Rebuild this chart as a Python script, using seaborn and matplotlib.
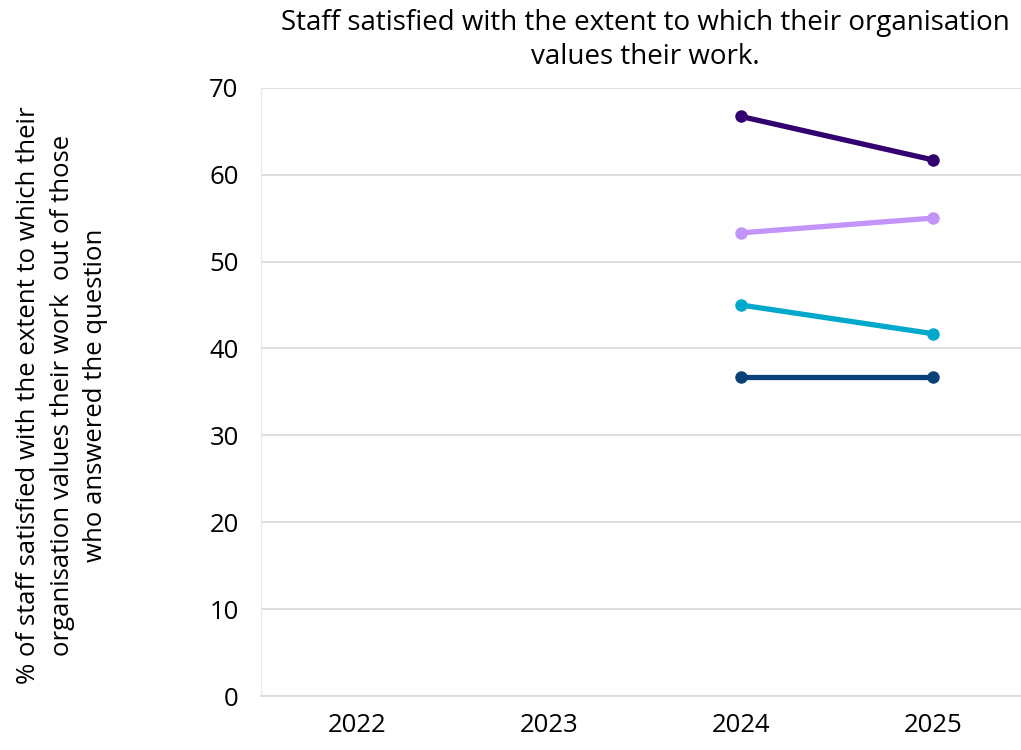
import numpy as np
import pandas as pd
import matplotlib
matplotlib.use("Agg")
import matplotlib.pyplot as plt
import seaborn as sns

years = ["2022", "2023", "2024", "2025"]
series_names = ["Series A", "Series B", "Series C", "Series D"]
series_a = [np.nan, np.nan, 66.7, 61.7]
series_b = [np.nan, np.nan, 53.3, 55.0]
series_c = [np.nan, np.nan, 45.0, 41.7]
series_d = [np.nan, np.nan, 36.7, 36.7]
colors = ["#330072", "#C394F8", "#00A8CC", "#0A417A"]

rows = []
for name, vals in zip(series_names, [series_a, series_b, series_c, series_d]):
    for y, v in zip(years, vals):
        rows.append({"year": y, "value": v, "series": name})
df = pd.DataFrame(rows)
df["pos"] = df["year"].map({y: i for i, y in enumerate(years)})

sns.set_style("white")
plt.rcParams["font.family"] = ["Open Sans", "DejaVu Sans"]
plt.rcParams["text.color"] = "black"

fig = plt.figure(figsize=(10.21, 7.5), dpi=100)
ax = fig.add_axes([0.2556, 0.072, 0.752, 0.811])

sns.lineplot(data=df.dropna(), x="pos", y="value", hue="series",
             hue_order=series_names, palette=colors, linewidth=3.8,
             marker="o", markersize=9, markeredgewidth=0, legend=False, ax=ax)

ax.set_xlim(-0.5, 3.5)
ax.set_ylim(0, 70)
ax.set_yticks(range(0, 71, 10))
ax.set_xticks(range(len(years)))
ax.set_xticklabels(years)
ax.tick_params(axis="both", labelsize=18.5, colors="black", length=0)
ax.tick_params(axis="y", pad=16)
ax.tick_params(axis="x", pad=12)
ax.yaxis.grid(True, color="#D9D9D9", linewidth=1.2)
ax.set_axisbelow(True)
for s in ["top", "right"]:
    ax.spines[s].set_visible(False)
ax.spines["left"].set_color("#DDEBF7")
ax.spines["bottom"].set_color("#D9D9D9")
ax.spines["bottom"].set_linewidth(1.2)

ax.set_xlabel("")
ax.set_ylabel("")
fig.text(0.061, 0.473,
         "% of staff satisfied with the extent to which their\n"
         "organisation values their work  out of those\n"
         "who answered the question",
         fontsize=18.5, rotation=90, ha="center", va="center",
         multialignment="center", linespacing=1.45)
fig.text(0.632, 0.947,
         "Staff satisfied with the extent to which their organisation\n"
         "values their work.",
         fontsize=20, ha="center", va="center", linespacing=1.3)

fig.savefig("out.png", dpi=100)
